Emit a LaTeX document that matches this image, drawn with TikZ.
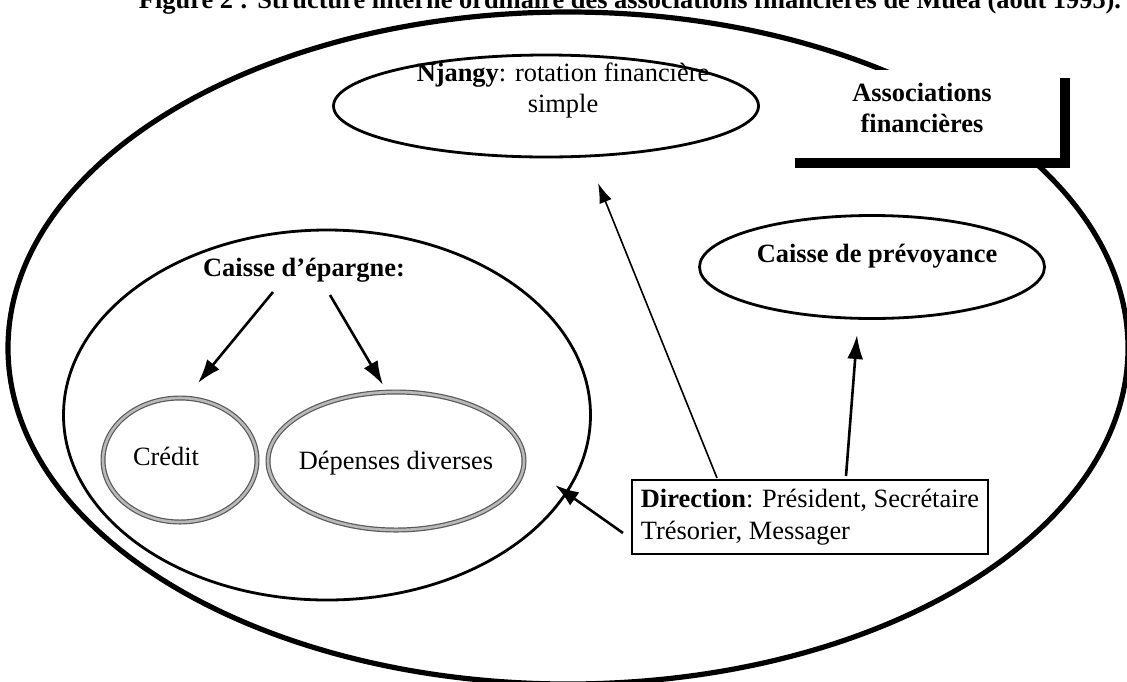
\documentclass[tikz,border=0pt]{standalone}
\usepackage{fontspec}
\setmainfont{Liberation Serif}
\usetikzlibrary{arrows.meta,shapes.geometric}
\begin{document}
\begin{tikzpicture}[x=0.5pt,y=-0.5pt,
  txt/.style={font=\fontsize{13.2}{15.5}\selectfont, inner sep=0pt, align=center},
  oval/.style={ellipse, draw, line width=1.4pt, inner sep=0pt},
  grayoval/.style={ellipse, draw=black!65, double=gray!55, double distance=1.3pt, line width=0.6pt, inner sep=0pt},
  thinarrow/.style={line width=0.8pt, -{Latex[length=10pt,width=6.5pt]}},
  thickarrow/.style={line width=1.3pt, -{Latex[length=12pt,width=8pt]}}
]
\useasboundingbox (0,0) rectangle (1127,681);
\clip (0,0) rectangle (1127,681);
\fill[white] (0,0) rectangle (1127,681);

% title (cut at top, as in the source)
\node[txt, anchor=base] (title) at (630,8) {\textbf{Figure 2 : Structure interne ordinaire des associations financières de Muea (août 1995).}};

% outer ellipse
\node[ellipse, draw, line width=2.6pt, inner sep=0pt, minimum width=560pt, minimum height=336pt] (outer) at (568,348) {};

% Associations financieres box
\node[fill=white, inner sep=0pt, minimum width=132.5pt, minimum height=44pt] (assoc) at (927.5,114) {};
\draw[line width=5pt] (795,163) -- (1065,163) -- (1065,78);
\node[txt, font=\fontsize{13.2}{15.5}\selectfont\bfseries] (assoctext) at (922,108) {Associations\\financières};

% Njangy
\node[oval, minimum width=212.5pt, minimum height=51pt] (njangy) at (546,106) {};
\node[txt] (njtext) at (563,91) {\textbf{Njangy}: rotation financière\\simple};

% Caisse de prevoyance
\node[oval, minimum width=172.5pt, minimum height=51.5pt] (prev) at (872,267) {};
\node[txt, font=\fontsize{13.2}{15.5}\selectfont\bfseries] (prevtext) at (877,256) {Caisse de prévoyance};

% Caisse d'epargne
\node[oval, minimum width=263.5pt, minimum height=185pt] (epargne) at (327,415) {};
\node[txt, font=\fontsize{13.2}{15.5}\selectfont\bfseries] (eptext) at (304,270) {Caisse d’épargne:};

% Credit and Depenses
\node[grayoval, minimum width=77pt, minimum height=62pt] (credit) at (180,460) {};
\node[txt] (credittext) at (166,456) {Crédit};
\node[grayoval, minimum width=128pt, minimum height=69pt] (depenses) at (396,461) {};
\node[txt] (deptext) at (396,463) {Dépenses diverses};

% Direction box
\node[draw, line width=1pt, minimum width=178pt, minimum height=37pt, inner sep=2.5pt, align=left, font=\fontsize{13.2}{16}\selectfont] (dir) at (810,517) {\textbf{Direction}: Président, Secrétaire\\Trésorier, Messager};

% connector end points
\coordinate (a1s) at (717,478);
\coordinate (a1e) at (598,183);
\coordinate (a2s) at (846,476);
\coordinate (a2e) at (857,335);
\coordinate (a3s) at (623,533);
\coordinate (a3e) at (555,485);
\coordinate (b1s) at (273,292);
\coordinate (b1e) at (198,383);
\coordinate (b2s) at (330,295);
\coordinate (b2e) at (383,385);

\draw[thinarrow] (a1s) -- (a1e);
\draw[thickarrow] (a2s) -- (a2e);
\draw[thickarrow] (a3s) -- (a3e);
\draw[thickarrow] (b1s) -- (b1e);
\draw[thickarrow] (b2s) -- (b2e);
\end{tikzpicture}
\end{document}
